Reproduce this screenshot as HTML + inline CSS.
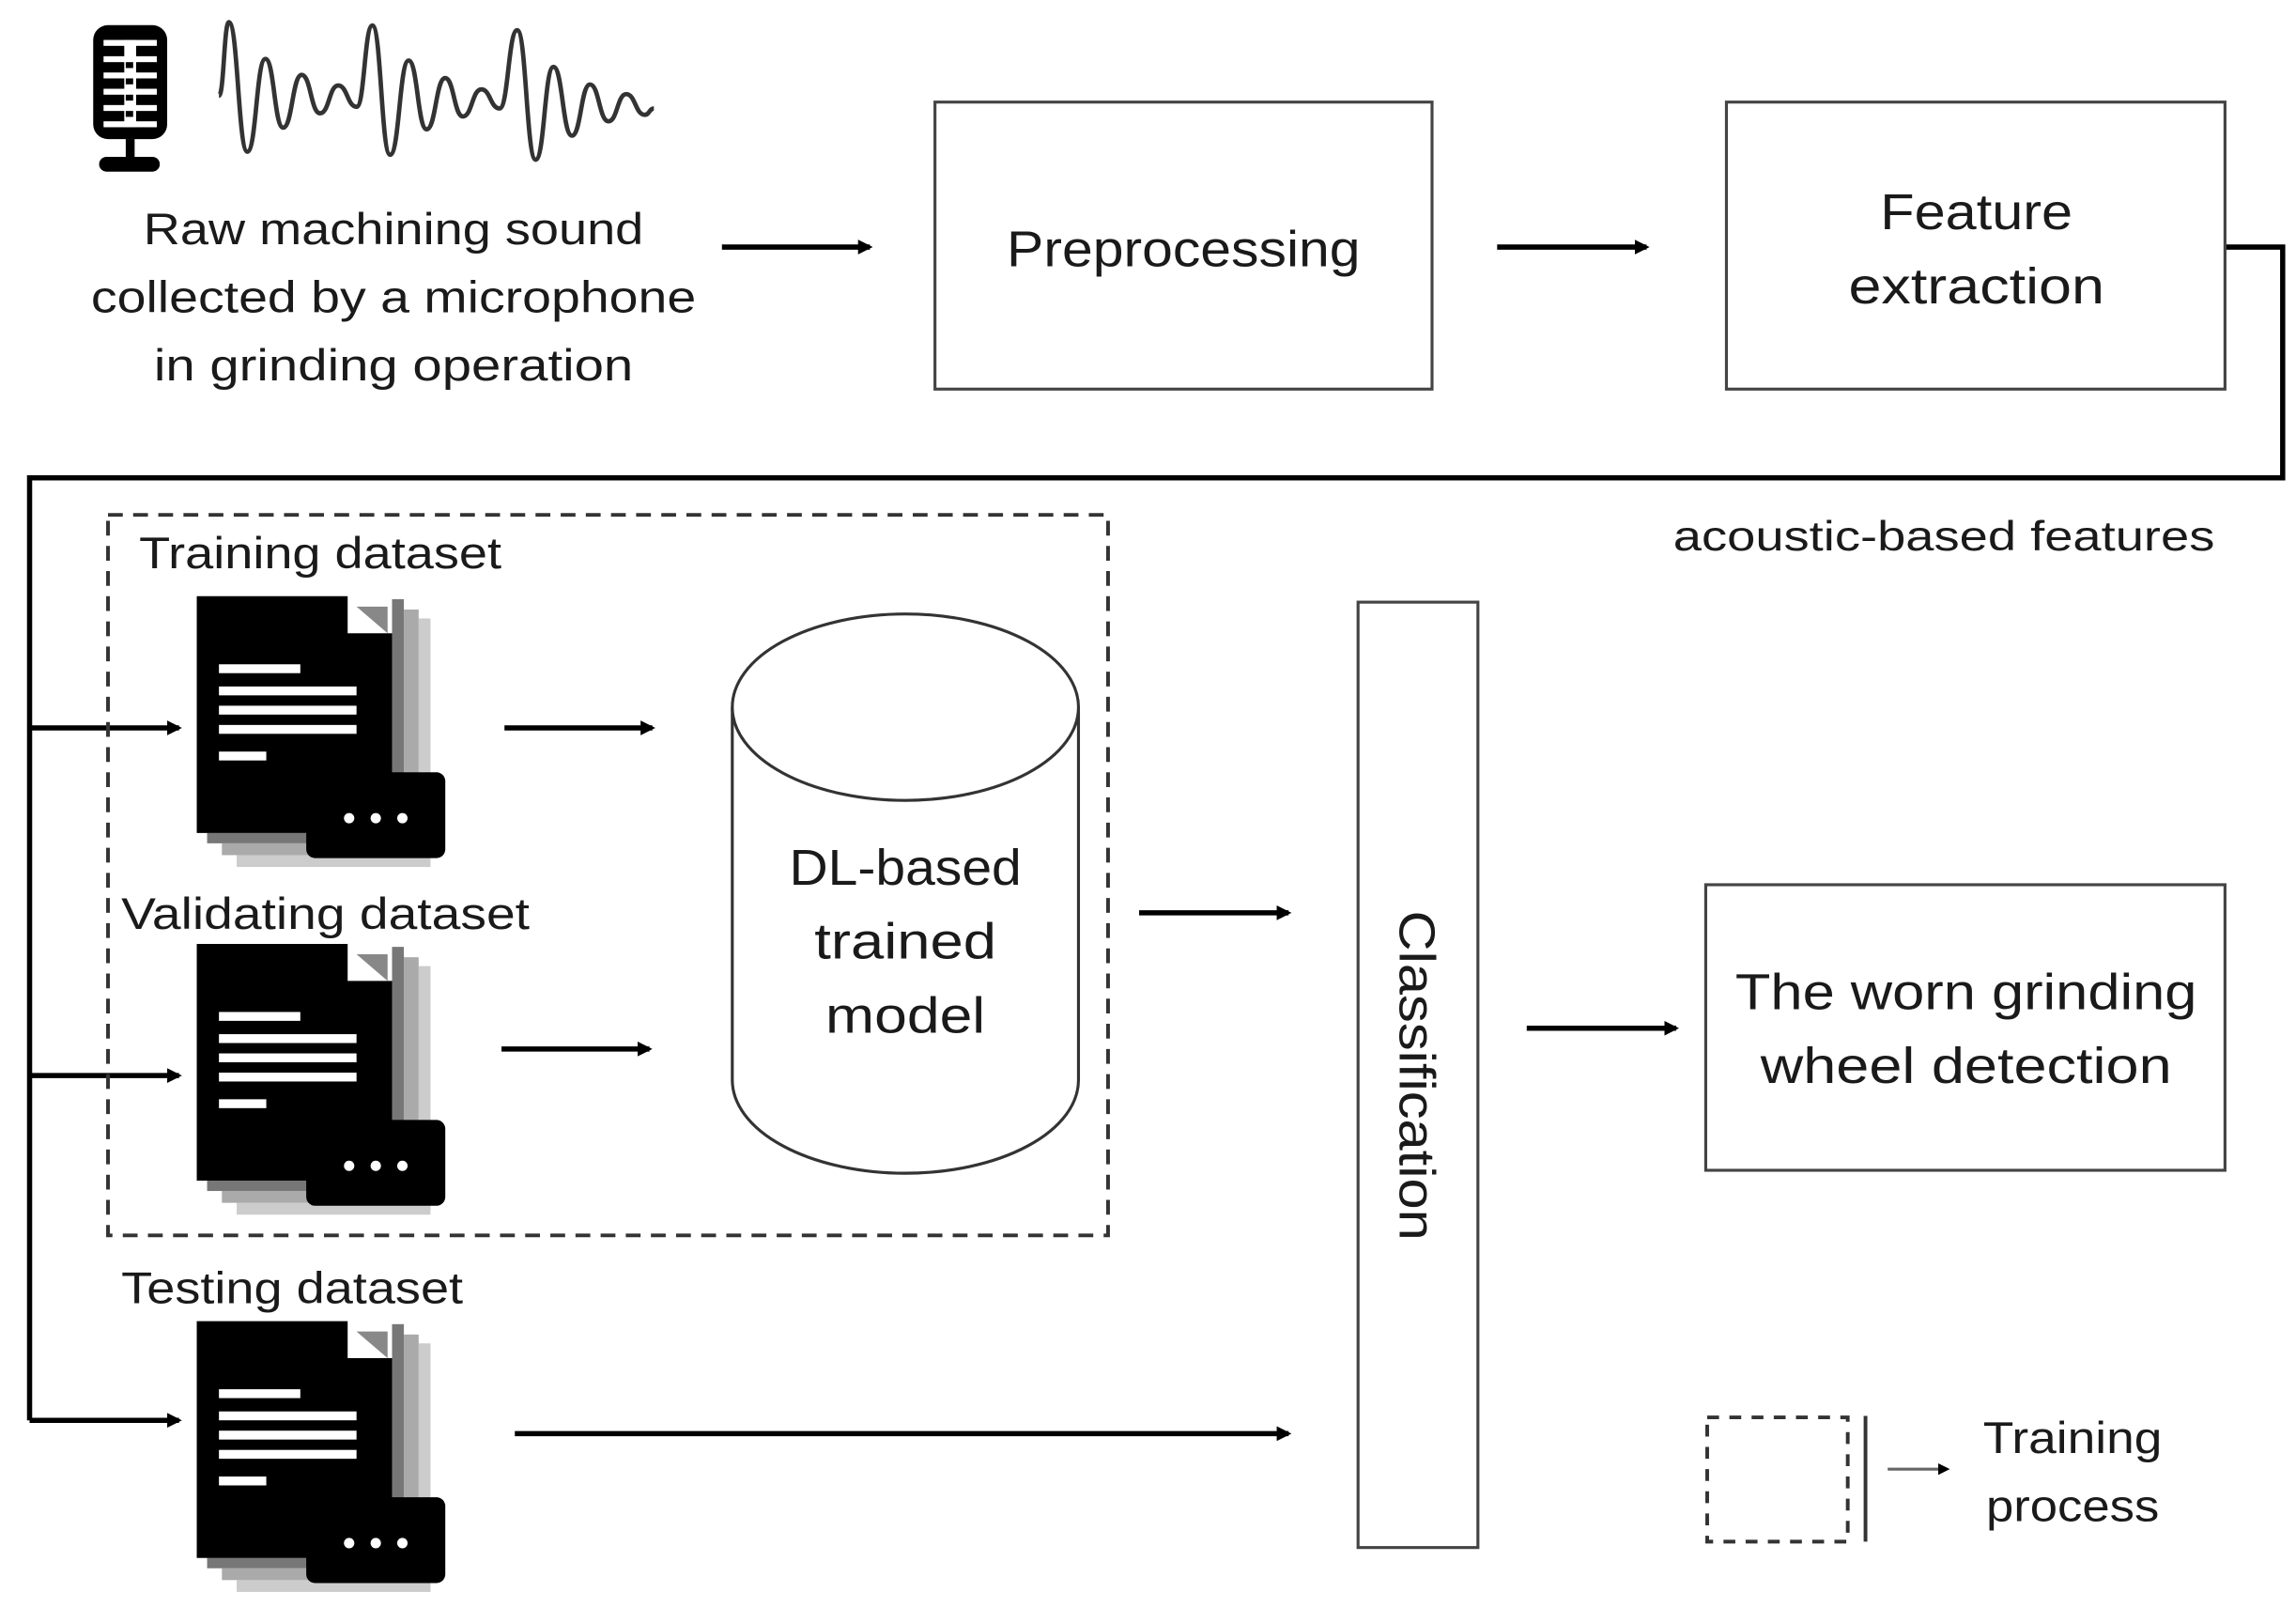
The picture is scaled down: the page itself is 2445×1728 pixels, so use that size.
<!DOCTYPE html>
<html><head><meta charset="utf-8"><style>
html,body{margin:0;padding:0;background:#fff}
svg{display:block}
text{font-family:"Liberation Sans",sans-serif;fill:#1a1a1a}
</style></head><body>
<svg width="2445" height="1728" viewBox="0 0 1552 1097" preserveAspectRatio="none" xmlns="http://www.w3.org/2000/svg">
<defs>
<marker id="ah" markerWidth="8" markerHeight="8" refX="6" refY="4" orient="auto" markerUnits="userSpaceOnUse">
<path d="M0,0 L8,4 L0,8 z" fill="#000"/></marker>
<marker id="ah2" markerWidth="10" markerHeight="10" refX="8" refY="5" orient="auto" markerUnits="userSpaceOnUse">
<path d="M0,0 L10,5 L0,10 z" fill="#000"/></marker>
<g id="doc">
<rect x="283" y="418" width="8" height="165" fill="#ccc"/>
<rect x="273" y="412" width="10" height="160" fill="#aaa"/>
<rect x="265" y="405" width="8" height="158" fill="#777"/>
<rect x="160" y="578" width="131" height="8" fill="#ccc"/>
<rect x="150" y="570" width="133" height="8" fill="#aaa"/>
<rect x="140" y="563" width="125" height="7" fill="#777"/>
<path d="M133,403 H235 V428 H265 V563 H133 Z" fill="#000"/>
<path d="M241,410 L262,410 L262,428 Z" fill="#888"/>
<rect x="148" y="449" width="55" height="6" fill="#fff"/>
<rect x="148" y="464" width="93" height="6" fill="#fff"/>
<rect x="148" y="477" width="93" height="6" fill="#fff"/>
<rect x="148" y="490" width="93" height="6" fill="#fff"/>
<rect x="148" y="508" width="32" height="6" fill="#fff"/>
<rect x="207" y="522" width="94" height="58" rx="6" fill="#000"/>
<circle cx="236" cy="553" r="3.5" fill="#fff"/>
<circle cx="254" cy="553" r="3.5" fill="#fff"/>
<circle cx="272" cy="553" r="3.5" fill="#fff"/>
</g>
</defs>

<!-- mic -->
<rect x="63" y="17" width="50" height="77" rx="10" fill="#000"/>
<g fill="#fff">
<rect x="70" y="27" width="36" height="4"/>
<rect x="70" y="38" width="36" height="4"/>
<rect x="70" y="49" width="36" height="4"/>
<rect x="70" y="60" width="36" height="4"/>
<rect x="70" y="71" width="36" height="4"/>
<rect x="70" y="82" width="36" height="4"/>
<rect x="84" y="27" width="8" height="59"/>
</g>
<g fill="#000"><rect x="85" y="42" width="5" height="4"/><rect x="85" y="53" width="5" height="4"/><rect x="85" y="64" width="5" height="4"/><rect x="85" y="75" width="5" height="4"/></g>
<rect x="85" y="94" width="6" height="13" fill="#000"/>
<rect x="67" y="106" width="41" height="10" rx="5" fill="#000"/>
<!-- waveform -->
<path fill="none" stroke="#333" stroke-width="3" d="M148,64.7 C151.4,64.7 151.4,15 154.7,15 C160.9,15 161,102.5 167.2,102.5 C173.3,102.5 173.3,39.8 179.4,39.8 C185.4,39.8 185.4,86.3 191.4,86.3 C197.6,86.3 197.6,50.6 203.9,50.6 C210.1,50.6 210.1,76.6 216.4,76.6 C222.5,76.6 222.5,57.8 228.6,57.8 C234.8,57.8 234.8,72.2 241.1,72.2 C246.4,72.2 246.4,17.2 251.7,17.2 C257.7,17.2 257.7,104.6 263.7,104.6 C270,104.6 270,40.9 276.2,40.9 C282.3,40.9 282.3,87.4 288.4,87.4 C294.6,87.4 294.6,52.8 300.9,52.8 C306.9,52.8 306.9,78.7 312.9,78.7 C319.1,78.7 319.1,60.4 325.4,60.4 C331.5,60.4 331.5,73.3 337.7,73.3 C343.6,73.3 343.6,20.4 349.6,20.4 C355.8,20.4 355.8,107.9 362.1,107.9 C368.1,107.9 368.1,45.2 374.1,45.2 C380.3,45.2 380.3,91.7 386.6,91.7 C392.7,91.7 392.7,57.1 398.8,57.1 C405,57.1 405,82 411.3,82 C417.3,82 417.3,63.6 423.3,63.6 C429.5,63.6 429.5,77.6 435.8,77.6 C439,77.6 439,73.3 442,73.3"/>

<text x="266" y="165" font-size="30" text-anchor="middle" textLength="338" lengthAdjust="spacingAndGlyphs">Raw machining sound</text>
<text x="266" y="211" font-size="30" text-anchor="middle" textLength="409" lengthAdjust="spacingAndGlyphs">collected by a microphone</text>
<text x="266" y="257" font-size="30" text-anchor="middle" textLength="324" lengthAdjust="spacingAndGlyphs">in grinding operation</text>

<g stroke="#000" stroke-width="3.5" fill="none">
<line x1="488" y1="167" x2="588" y2="167" marker-end="url(#ah2)"/>
<line x1="1012" y1="167" x2="1113" y2="167" marker-end="url(#ah2)"/>
<line x1="770" y1="617" x2="871" y2="617" marker-end="url(#ah2)"/>
<line x1="1032" y1="695" x2="1133" y2="695" marker-end="url(#ah2)"/>
<line x1="341" y1="492" x2="441" y2="492" marker-end="url(#ah2)"/>
<line x1="339" y1="709" x2="439" y2="709" marker-end="url(#ah2)"/>
<line x1="348" y1="969" x2="871" y2="969" marker-end="url(#ah2)"/>
<polyline points="1504,167 1543,167 1543,323 20,323 20,960"/>
<line x1="20" y1="492" x2="121" y2="492" marker-end="url(#ah2)"/>
<line x1="20" y1="727" x2="121" y2="727" marker-end="url(#ah2)"/>
<line x1="20" y1="960" x2="121" y2="960" marker-end="url(#ah2)"/>
</g>

<g stroke="#444" stroke-width="2" fill="#fff">
<rect x="632" y="69" width="336" height="194"/>
<rect x="1167" y="69" width="337" height="194"/>
<rect x="918" y="407" width="81" height="639"/>
<rect x="1153" y="598" width="351" height="193"/>
</g>
<text x="800" y="180" font-size="34" text-anchor="middle" textLength="239" lengthAdjust="spacingAndGlyphs">Preprocessing</text>
<text x="1336" y="155" font-size="34" text-anchor="middle" textLength="130" lengthAdjust="spacingAndGlyphs">Feature</text>
<text x="1336" y="205" font-size="34" text-anchor="middle" textLength="173" lengthAdjust="spacingAndGlyphs">extraction</text>
<text x="1497" y="372" font-size="28" text-anchor="end" textLength="366" lengthAdjust="spacingAndGlyphs">acoustic-based features</text>

<rect x="73" y="348" width="676" height="487" fill="none" stroke="#333" stroke-width="2.5" stroke-dasharray="10,7"/>
<text x="94" y="384" font-size="30" textLength="245" lengthAdjust="spacingAndGlyphs">Training dataset</text>
<text x="82" y="628" font-size="30" textLength="276" lengthAdjust="spacingAndGlyphs">Validating dataset</text>
<text x="82" y="881" font-size="30" textLength="231" lengthAdjust="spacingAndGlyphs">Testing dataset</text>

<use href="#doc"/>
<use href="#doc" transform="translate(0,235)"/>
<use href="#doc" transform="translate(0,490)"/>

<!-- cylinder -->
<path d="M495,478 L495,730 A117,63 0 0 0 729,730 L729,478" fill="#fff" stroke="#333" stroke-width="2"/>
<ellipse cx="612" cy="478" rx="117" ry="63" fill="#fff" stroke="#333" stroke-width="2"/>
<text x="612" y="598" font-size="34" text-anchor="middle" textLength="157" lengthAdjust="spacingAndGlyphs">DL-based</text>
<text x="612" y="648" font-size="34" text-anchor="middle" textLength="123" lengthAdjust="spacingAndGlyphs">trained</text>
<text x="612" y="698" font-size="34" text-anchor="middle" textLength="108" lengthAdjust="spacingAndGlyphs">model</text>

<text transform="translate(946,727) rotate(90)" font-size="34" text-anchor="middle" textLength="223" lengthAdjust="spacingAndGlyphs">Classification</text>

<text x="1329" y="682" font-size="34" text-anchor="middle" textLength="312" lengthAdjust="spacingAndGlyphs">The worn grinding</text>
<text x="1329" y="732" font-size="34" text-anchor="middle" textLength="278" lengthAdjust="spacingAndGlyphs">wheel detection</text>

<!-- legend -->
<rect x="1154" y="958" width="95" height="84" fill="none" stroke="#333" stroke-width="2.5" stroke-dasharray="8,7"/>
<line x1="1261" y1="957" x2="1261" y2="1042" stroke="#333" stroke-width="2.5"/>
<line x1="1276" y1="993" x2="1316" y2="993" stroke="#666" stroke-width="2" marker-end="url(#ah)"/>
<text x="1401" y="982" font-size="30" text-anchor="middle" textLength="121" lengthAdjust="spacingAndGlyphs">Training</text>
<text x="1401" y="1028" font-size="30" text-anchor="middle" textLength="117" lengthAdjust="spacingAndGlyphs">process</text>
</svg>
</body></html>
